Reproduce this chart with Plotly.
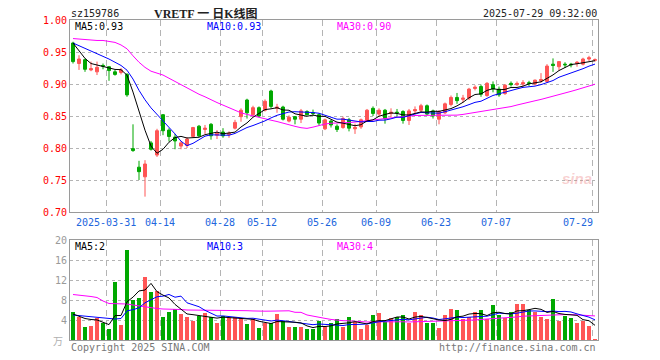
import pandas as pd
import numpy as np
import plotly.graph_objects as go

# ---------------- data ----------------
holidays = ["2025-04-04", "2025-05-01", "2025-05-02", "2025-05-05", "2025-06-02"]
dates = [d.strftime("%Y-%m-%d") for d in pd.bdate_range("2025-03-21", "2025-07-29")
         if d.strftime("%Y-%m-%d") not in holidays]

open_ = [0.964, 0.932, 0.938, 0.922, 0.919, 0.929, 0.927, 0.919, 0.918, 0.915,
         0.799, 0.770, 0.755, 0.808, 0.789, 0.852, 0.828, 0.817, 0.803, 0.804,
         0.818, 0.834, 0.829, 0.837, 0.820, 0.825, 0.821, 0.831, 0.849, 0.875,
         0.852, 0.863, 0.859, 0.889, 0.862, 0.864, 0.842, 0.849, 0.845, 0.857,
         0.855, 0.852, 0.830, 0.842, 0.834, 0.832, 0.844, 0.830, 0.833, 0.843,
         0.862, 0.853, 0.859, 0.854, 0.856, 0.857, 0.843, 0.858, 0.859, 0.866,
         0.858, 0.845, 0.855, 0.868, 0.879, 0.876, 0.878, 0.893, 0.896, 0.882,
         0.899, 0.892, 0.885, 0.901, 0.899, 0.900, 0.902, 0.900, 0.905, 0.904,
         0.931, 0.927, 0.931, 0.931, 0.932, 0.931, 0.939, 0.937]
high = [0.966, 0.945, 0.940, 0.935, 0.935, 0.932, 0.928, 0.922, 0.925, 0.917,
        0.837, 0.780, 0.781, 0.811, 0.830, 0.853, 0.831, 0.822, 0.811, 0.817,
        0.833, 0.836, 0.836, 0.839, 0.828, 0.831, 0.826, 0.844, 0.862, 0.877,
        0.866, 0.865, 0.876, 0.891, 0.869, 0.866, 0.851, 0.850, 0.861, 0.859,
        0.860, 0.854, 0.846, 0.844, 0.837, 0.849, 0.847, 0.838, 0.846, 0.861,
        0.865, 0.862, 0.861, 0.862, 0.861, 0.859, 0.861, 0.865, 0.869, 0.868,
        0.860, 0.859, 0.871, 0.882, 0.886, 0.883, 0.894, 0.898, 0.899, 0.903,
        0.904, 0.896, 0.900, 0.904, 0.904, 0.906, 0.905, 0.907, 0.917, 0.931,
        0.940, 0.935, 0.934, 0.933, 0.936, 0.941, 0.944, 0.940]
low = [0.932, 0.922, 0.919, 0.920, 0.914, 0.923, 0.905, 0.913, 0.915, 0.880,
       0.794, 0.750, 0.724, 0.796, 0.786, 0.820, 0.810, 0.798, 0.798, 0.800,
       0.816, 0.817, 0.822, 0.813, 0.814, 0.816, 0.816, 0.829, 0.841, 0.846,
       0.849, 0.848, 0.857, 0.862, 0.855, 0.843, 0.840, 0.837, 0.839, 0.851,
       0.850, 0.835, 0.828, 0.832, 0.825, 0.830, 0.826, 0.822, 0.830, 0.842,
       0.850, 0.849, 0.838, 0.848, 0.849, 0.838, 0.836, 0.853, 0.856, 0.851,
       0.846, 0.837, 0.853, 0.865, 0.869, 0.871, 0.875, 0.890, 0.880, 0.880,
       0.887, 0.880, 0.883, 0.896, 0.897, 0.896, 0.897, 0.898, 0.902, 0.902,
       0.919, 0.921, 0.925, 0.926, 0.927, 0.929, 0.936, 0.935]
close = [0.935, 0.939, 0.923, 0.924, 0.926, 0.928, 0.921, 0.915, 0.922, 0.883,
         0.796, 0.763, 0.775, 0.798, 0.827, 0.827, 0.818, 0.811, 0.808, 0.814,
         0.832, 0.819, 0.831, 0.819, 0.823, 0.819, 0.823, 0.840, 0.859, 0.855,
         0.863, 0.850, 0.873, 0.865, 0.864, 0.845, 0.848, 0.845, 0.858, 0.852,
         0.854, 0.839, 0.844, 0.836, 0.829, 0.846, 0.831, 0.832, 0.844, 0.859,
         0.854, 0.859, 0.846, 0.856, 0.855, 0.843, 0.858, 0.860, 0.866, 0.853,
         0.850, 0.857, 0.869, 0.879, 0.874, 0.878, 0.892, 0.895, 0.884, 0.901,
         0.892, 0.883, 0.898, 0.899, 0.901, 0.902, 0.901, 0.906, 0.907, 0.928,
         0.929, 0.935, 0.930, 0.930, 0.934, 0.939, 0.941, 0.938]
volume = [5.67, 4.53, 2.67, 2.87, 4.33, 3.33, 2.2, 11.67, 3.0, 18.0,
          8.0, 8.4, 12.6, 9.6, 9.73, 4.53, 5.6, 6.13, 5.2, 4.6,
          3.8, 4.8, 5.33, 4.53, 3.4, 4.8, 4.4, 4.53, 4.4, 3.2,
          4.13, 2.47, 3.33, 3.33, 5.2, 3.87, 2.67, 2.67, 2.67, 2.2,
          2.2, 3.87, 2.53, 3.33, 4.13, 2.67, 4.53, 3.67, 2.2, 3.0,
          5.0, 5.47, 3.67, 4.33, 4.53, 5.0, 3.47, 5.6, 5.0, 3.47,
          3.47, 2.47, 5.0, 6.2, 6.0, 4.2, 4.53, 5.6, 6.0, 4.13,
          7.0, 5.0, 4.33, 5.6, 7.2, 7.2, 6.0, 5.67, 4.6, 4.13,
          8.2, 3.87, 4.8, 4.4, 3.4, 3.87, 2.8, 0.2]

ma5_head = [0.964, 0.952, 0.940, 0.932]
ma10_head = [0.964, 0.960, 0.956, 0.951, 0.947, 0.943, 0.939, 0.934, 0.929]
ma30_head = [0.971, 0.970, 0.970, 0.969, 0.968, 0.968, 0.967, 0.965, 0.961, 0.955,
             0.944, 0.934, 0.926, 0.920, 0.917, 0.914, 0.909, 0.904, 0.899, 0.893,
             0.888, 0.884, 0.880, 0.875, 0.871, 0.867, 0.863, 0.859, 0.855]
vma5_head = [5.2, 4.8, 4.3, 4.1]
vma10_head = [5.0, 4.9, 4.8, 4.7, 4.6, 4.4, 4.3, 4.2, 4.3]
vma30_head = [9.1, 9.0, 8.9, 8.7, 8.5, 7.8, 7.3, 7.3, 7.3, 7.2,
              7.0, 6.8, 6.6, 6.4, 6.3, 6.2, 6.2, 6.1, 6.1, 6.0,
              6.0, 6.0, 5.9, 5.9, 5.9, 5.9, 5.9, 5.9, 5.85]

price_legend = ["MA5:0.93", "MA10:0.93", "MA30:0.90"]
volume_legend = ["MA5:2", "MA10:3", "MA30:4"]

label_dates = ["2025-03-31", "2025-04-14", "2025-04-28", "2025-05-12", "2025-05-26",
               "2025-06-09", "2025-06-23", "2025-07-07", "2025-07-29"]
label_texts = ["2025-03-31", "04-14", "04-28", "05-12", "05-26", "06-09", "06-23", "07-07", "07-29"]
price_ticks = [0.70, 0.75, 0.80, 0.85, 0.90, 0.95, 1.00]
vol_ticks = [4, 8, 12, 16, 20]

# ---------------- derived ----------------
def moving(vals, n, head):
    s = pd.Series(vals, dtype=float).rolling(n).mean().tolist()
    return head + s[len(head):]

x = list(range(len(dates)))
ma5 = moving(close, 5, ma5_head)
ma10 = moving(close, 10, ma10_head)
ma30 = moving(close, 30, ma30_head)
vma5 = moving(volume, 5, vma5_head)
vma10 = moving(volume, 10, vma10_head)
vma30 = moving(volume, 30, vma30_head)

RED = "#ff5555"
GREEN = "#00a800"
GRID = "#b4b4b4"
FRAME = "#9a9a9a"
MONO = "DejaVu Sans Mono"

bar_colors = [RED if c >= o else GREEN for o, c in zip(open_, close)]
grid_x = [dates.index(d) - 0.5 for d in label_dates]

fig = go.Figure()
fig.add_trace(go.Candlestick(
    x=x, open=open_, high=high, low=low, close=close,
    increasing=dict(line=dict(color=RED, width=1), fillcolor=RED),
    decreasing=dict(line=dict(color=GREEN, width=1), fillcolor=GREEN),
    whiskerwidth=0, xaxis="x", yaxis="y", hoverinfo="skip"))
for vals, col in [(ma30, "#ff00ff"), (ma10, "#0000ff"), (ma5, "#000000")]:
    fig.add_trace(go.Scatter(x=x, y=vals, mode="lines", line=dict(color=col, width=1),
                             xaxis="x", yaxis="y", hoverinfo="skip"))

fig.add_trace(go.Bar(x=x, y=volume, marker=dict(color=bar_colors, line=dict(width=0)),
                     width=0.82, xaxis="x2", yaxis="y2", hoverinfo="skip"))
for vals, col in [(vma30, "#ff00ff"), (vma10, "#0000ff"), (vma5, "#000000")]:
    fig.add_trace(go.Scatter(x=x, y=vals, mode="lines", line=dict(color=col, width=1),
                             xaxis="x2", yaxis="y2", hoverinfo="skip"))

# page has an 8px body margin; figure coordinates = page coordinates - OFF
OFF = 8
W, H = 652, 352
L, T = 70 - OFF, 20 - OFF
R = W - (598 - OFF)
B = H - (340 - OFF)
PW, PH = W - L - R, H - T - B

def px(xp):
    return (xp - OFF - L) / PW

def py(yp):
    return (H - B - (yp - OFF)) / PH

xcommon = dict(range=[-0.5, len(dates) - 0.5], tickvals=grid_x, showticklabels=False,
               showgrid=True, gridcolor=GRID, griddash="6px,4px", gridwidth=1,
               showline=True, mirror=True, linecolor=FRAME, linewidth=1,
               zeroline=False, ticks="", fixedrange=True, automargin=False)

fig.update_layout(
    width=W, height=H, margin=dict(l=L, r=R, t=T, b=B, autoexpand=False),
    paper_bgcolor="white", plot_bgcolor="white", showlegend=False,
    boxgap=0.3, bargap=0,
    xaxis=dict(domain=[0, 1], anchor="y", rangeslider=dict(visible=False), **xcommon),
    xaxis2=dict(domain=[0, 1], anchor="y2", **xcommon),
    yaxis=dict(domain=[py(212), 1], range=[0.70, 1.00], tickvals=price_ticks,
               ticktext=["%.2f" % v for v in price_ticks],
               tickfont=dict(family=MONO, size=10, color="#ff0000"),
               showgrid=True, gridcolor=GRID, griddash="dot", gridwidth=1, automargin=False,
               showline=True, mirror=True, linecolor=FRAME, zeroline=False, ticks=""),
    yaxis2=dict(domain=[0, py(240)], range=[0, 20], tickvals=vol_ticks,
                ticktext=[str(v) for v in vol_ticks],
                tickfont=dict(family=MONO, size=10, color="#9a9a9a"),
                showgrid=True, gridcolor=GRID, griddash="dot", gridwidth=1, automargin=False,
                showline=True, mirror=True, linecolor=FRAME, zeroline=False, ticks=""),
)

def note(text, xp, yp, color="#000", size=10, anchor="left", family=MONO, yanchor="middle"):
    fig.add_annotation(text=text, x=px(xp), y=py(yp), xref="paper", yref="paper",
                       showarrow=False, xanchor=anchor, yanchor=yanchor,
                       font=dict(family=family, size=size, color=color))

note("sz159786", 69, 14, "#222")
note("<b>VRETF 一 日K线图</b>", 152, 14, "#222", size=12,
     family="Liberation Serif, Noto Sans CJK SC")
note("2025-07-29 09:32:00", 599, 14, "#222", anchor="right")
for txt, xp, col in zip(price_legend, [73, 205, 335], ["#000000", "#0000ff", "#ff00ff"]):
    note(txt, xp, 27, col)
for txt, xp, col in zip(volume_legend, [73, 205, 335], ["#000000", "#0000ff", "#ff00ff"]):
    note(txt, xp, 246, col)
note("万", 58, 340, "#b0b0b0", size=10, anchor="center", family="Noto Sans CJK SC")
note("Copyright 2025 SINA.COM", 69, 347, "#777")
note("http://finance.sina.com.cn", 598, 347, "#777", anchor="right")
note("<i><b>sina</b></i>", 577, 178, "rgba(235,120,120,0.35)", size=15, anchor="center",
     family="Liberation Sans")

for d, t in zip(label_dates, label_texts):
    gx = dates.index(d) - 0.5
    last = d == label_dates[-1]
    fig.add_annotation(text=t, x=gx + (0.5 if last else 0), y=py(222), xref="x", yref="paper",
                       showarrow=False, xanchor="right" if last else "center", yanchor="middle",
                       font=dict(family=MONO, size=10, color="#2266dd"))

fig.write_html("out.html", config={"displayModeBar": False, "staticPlot": True})
